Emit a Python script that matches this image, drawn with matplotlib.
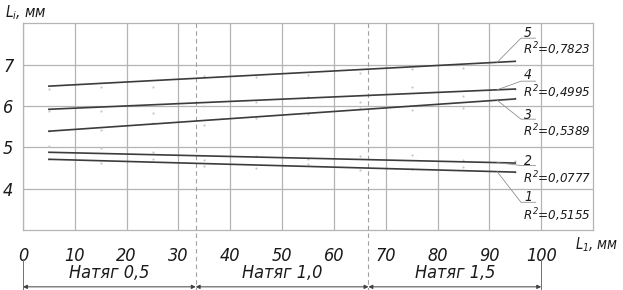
import matplotlib
matplotlib.use("Agg")
import matplotlib.pyplot as plt
from matplotlib import font_manager as fm

# ---------------- data ----------------
line_ids = ["1", "2", "3", "4", "5"]
r2_labels = ["0,5155", "0,0777", "0,5389", "0,4995", "0,7823"]
line_x = [5, 95]
line_start = [4.71, 4.88, 5.39, 5.92, 6.48]
line_end = [4.40, 4.62, 6.17, 6.41, 7.08]

pts_x = [5, 15, 25, 35, 45, 55, 65, 75, 85, 95]
pts_1 = [4.72, 4.62, 4.71, 4.55, 4.50, 4.60, 4.45, 4.48, 4.52, 4.40]
pts_2 = [5.02, 4.99, 4.88, 4.70, 4.80, 4.72, 4.78, 4.82, 4.70, 4.68]
pts_3 = [5.40, 5.41, 5.60, 5.55, 5.70, 5.80, 5.95, 5.90, 5.95, 6.20]
pts_4 = [5.87, 5.88, 5.83, 6.00, 6.10, 6.22, 6.10, 6.45, 6.25, 6.40]
pts_5 = [6.42, 6.46, 6.46, 6.72, 6.70, 6.75, 6.80, 6.90, 6.92, 7.00]
pts_all = [pts_1, pts_2, pts_3, pts_4, pts_5]

x_ticks = [0, 10, 20, 30, 40, 50, 60, 70, 80, 90, 100]
y_ticks = [4, 5, 6, 7]
zones = ["Натяг 0,5", "Натяг 1,0", "Натяг 1,5"]
zone_bounds = [0, 100 / 3, 200 / 3, 100]

# ---------------- fonts ----------------
cond = [f for f in fm.fontManager.ttflist
        if "condensed" in f.fname.lower() and "dejavusans" in f.fname.lower().replace(" ", "")
        and ("oblique" in f.fname.lower() or "italic" in f.fname.lower())
        and "bold" not in f.fname.lower()]
narrow = [f for f in fm.fontManager.ttflist if f.name == "Liberation Sans Narrow"]
if cond:
    plt.rcParams["font.family"] = ["DejaVu Sans"]
    plt.rcParams["font.stretch"] = "condensed"
    FAM = "DejaVu Sans"
elif narrow:
    plt.rcParams["font.family"] = ["Liberation Sans Narrow", "DejaVu Sans"]
    FAM = "Liberation Sans Narrow"
else:
    plt.rcParams["font.family"] = ["DejaVu Sans"]
    FAM = "DejaVu Sans"
plt.rcParams["font.style"] = "italic"
plt.rcParams["mathtext.fontset"] = "custom"
plt.rcParams["mathtext.it"] = f"{FAM}:italic"
plt.rcParams["mathtext.rm"] = f"{FAM}:italic"

TXT = "#1a1a1a"
GRID = "#b4b4b4"

fig = plt.figure(figsize=(6.23, 2.90), dpi=100)
ax = fig.add_axes([23 / 623, 1 - 230 / 290, 570 / 623, (230 - 23.3) / 290])
ax.set_xlim(0, 110)
ax.set_ylim(3, 8)
ax.set_xticks(x_ticks)
ax.set_yticks(y_ticks)
ax.grid(True, color=GRID, lw=0.9)
ax.set_axisbelow(True)
for s in ax.spines.values():
    s.set_color(GRID)
    s.set_linewidth(0.9)
ax.tick_params(length=0, labelsize=13, colors=TXT, pad=12)
ax.tick_params(axis="y", pad=7)
for lab in ax.get_xticklabels() + ax.get_yticklabels():
    lab.set_fontstyle("italic")

# scatter points
for p in pts_all:
    ax.scatter(pts_x, p, s=2.5, color="#c8c8c8", zorder=2, linewidths=0)

# regression lines
for y0, y1 in zip(line_start, line_end):
    ax.plot(line_x, [y0, y1], color="#3c3c3c", lw=1.2, zorder=3)

# leader lines and labels: (number y, R2 y, elbow y)
label_pos = {"5": (7.77, 7.38, 7.64), "4": (6.74, 6.34, 6.60), "3": (5.79, 5.39, 5.68),
             "2": (4.67, 4.26, 4.56), "1": (3.80, 3.37, 3.67)}
anchor_x = 91.5
for i, (lid, r2) in enumerate(zip(line_ids, r2_labels)):
    y0, y1 = line_start[i], line_end[i]
    ya = y0 + (y1 - y0) * (anchor_x - 5) / 90
    ny, ry, ey = label_pos[lid]
    ax.plot([anchor_x, 96.1, 98.9], [ya, ey, ey], color="#909090", lw=0.6, zorder=3,
            clip_on=False)
    ax.text(97.5, ny, lid, fontsize=10, color=TXT, ha="center", va="center", style="italic")
    ax.text(96.4, ry, r"$R^2$=" + r2, fontsize=9.5, color=TXT, ha="left", va="center",
            style="italic")

# axis labels
fig.text(5 / 623, 1 - 13 / 290, r"$L_i$, мм", fontsize=11, color=TXT, ha="left", va="center")
fig.text(575 / 623, 1 - 245 / 290, r"$L_1$, мм", fontsize=10.5, color=TXT, ha="left", va="center")

# dashed separators & zone dimension lines
trans = ax.get_xaxis_transform()
for xb in zone_bounds[1:3]:
    ax.plot([xb, xb], [1.0, -0.3], transform=trans, color="#a0a0a0", lw=0.8,
            ls=(0, (4, 3)), clip_on=False, zorder=1)
for xb in (zone_bounds[0], zone_bounds[3]):
    ax.plot([xb, xb], [-0.14, -0.3], transform=trans, color="#707070", lw=0.7, clip_on=False)
for k in range(3):
    xa, xb = zone_bounds[k], zone_bounds[k + 1]
    ax.annotate("", xy=(xa, -0.275), xytext=(xb, -0.275), xycoords=trans, textcoords=trans,
                arrowprops=dict(arrowstyle="<|-|>", color="#404040", lw=0.7,
                                mutation_scale=6, shrinkA=0, shrinkB=0))
    ax.text((xa + xb) / 2, -0.21, zones[k], transform=trans, fontsize=13, color=TXT,
            ha="center", va="center", style="italic")

fig.savefig("out.png", dpi=100)
